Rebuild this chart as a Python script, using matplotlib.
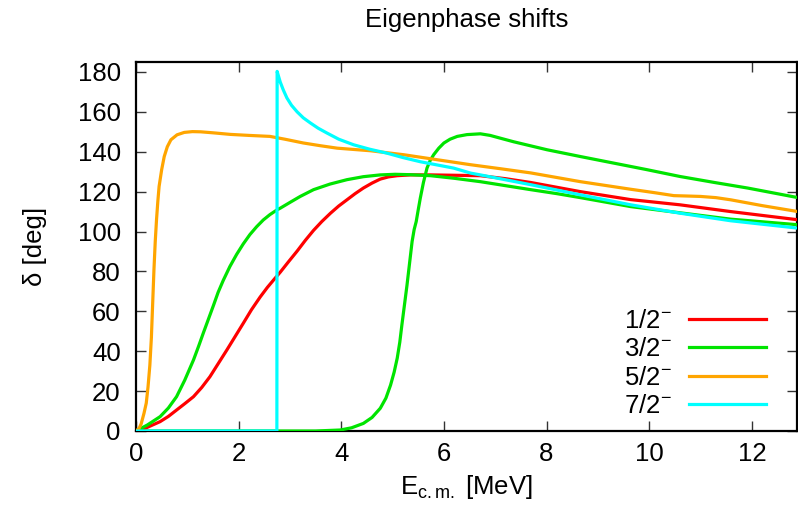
import matplotlib
matplotlib.use("Agg")
import matplotlib.pyplot as plt

plt.rcParams['font.family'] = ['Liberation Sans', 'DejaVu Sans']
plt.rcParams['mathtext.fontset'] = 'custom'
plt.rcParams['mathtext.rm'] = 'Liberation Sans'
plt.rcParams['mathtext.it'] = 'Liberation Sans:italic'

# 1/2-
e_half = [0.0, 0.2, 0.47, 0.63, 0.79, 0.95, 1.12, 1.28, 1.44, 1.60, 1.77, 1.93, 2.09, 2.25, 2.42,
          2.56, 2.71, 2.81, 2.97, 3.14, 3.30, 3.46, 3.62, 3.79, 3.95, 4.11, 4.27, 4.43, 4.6, 4.76,
          4.92, 5.09, 5.35, 5.74, 6.71, 7.2, 7.69, 8.66, 9.64, 10.6, 11.59, 12.9]
d_half = [0.0, 1.6, 4.7, 7.3, 10.5, 13.7, 17.2, 21.8, 27.2, 33.7, 40.6, 47.3, 54.0, 60.8, 67.2,
          72.0, 76.6, 79.6, 84.8, 90.2, 95.6, 100.6, 105.0, 109.2, 112.8, 115.9, 119.0, 121.8, 124.3, 126.3,
          127.4, 128.0, 128.4, 128.4, 128.0, 126.5, 124.6, 120.0, 116.0, 113.4, 110.0, 105.9]

# 3/2- (lower branch)
e_3a = [0.0, 0.22, 0.47, 0.63, 0.79, 0.95, 1.12, 1.22, 1.31, 1.41, 1.51, 1.60, 1.70, 1.83, 1.96,
        2.09, 2.22, 2.35, 2.48, 2.61, 2.75, 2.81, 3.0, 3.2, 3.46, 3.78, 4.11, 4.43, 4.76, 5.05,
        5.35, 5.74, 6.2, 6.71, 7.2, 7.69, 8.2, 8.66, 9.64, 10.6, 11.59, 12.9]
d_3a = [0.0, 3.0, 7.2, 11.5, 17.2, 25.5, 35.6, 42.5, 49.0, 56.0, 63.0, 69.5, 75.5, 82.5, 88.5,
        93.8, 98.5, 102.4, 105.8, 108.5, 110.9, 111.7, 114.6, 117.6, 121.0, 123.8, 126.0, 127.5, 128.4, 128.7,
        128.5, 128.0, 126.7, 125.0, 123.0, 121.0, 119.0, 117.0, 112.5, 109.4, 106.2, 103.4]

# 3/2- (upper branch)
e_3b = [0.0, 3.5, 3.98, 4.2, 4.43, 4.6, 4.76, 4.87, 4.96, 5.03, 5.09, 5.14, 5.18, 5.23, 5.28,
        5.33, 5.38, 5.42, 5.46, 5.50, 5.54, 5.60, 5.67, 5.73, 5.80, 5.9, 6.0, 6.12, 6.26, 6.45,
        6.65, 6.71, 6.9, 7.1, 7.36, 8.01, 8.66, 9.31, 9.96, 10.6, 11.27, 11.92, 12.9]
d_3b = [0.0, 0.0, 0.5, 1.6, 3.8, 6.8, 11.4, 16.5, 23.0, 29.5, 36.5, 44.5, 53.0, 63.0, 73.0,
        84.0, 95.0, 101.0, 105.0, 111.0, 116.8, 124.5, 131.8, 135.5, 138.5, 141.8, 144.4, 146.3, 147.7, 148.6,
        148.9, 149.0, 148.2, 146.8, 145.0, 141.0, 137.6, 134.3, 131.0, 127.6, 124.6, 121.8, 117.0]

# 5/2-
e_5 = [0.0, 0.06, 0.10, 0.156, 0.20, 0.234, 0.27, 0.30, 0.325, 0.35, 0.375, 0.40, 0.425, 0.45, 0.50,
       0.55, 0.61, 0.68, 0.80, 0.94, 1.1, 1.26, 1.5, 1.84, 2.2, 2.61, 2.9, 3.26, 3.6, 3.92,
       4.57, 5.22, 5.87, 6.52, 7.1, 7.69, 8.66, 9.64, 10.1, 10.48, 10.75, 11.0, 11.3, 11.59, 12.2, 12.9]
d_5 = [0.0, 1.3, 3.5, 8.9, 14.0, 22.0, 33.0, 47.0, 64.0, 81.0, 95.0, 106.0, 115.0, 122.6, 131.0,
       137.6, 142.5, 146.0, 148.5, 149.7, 150.1, 150.0, 149.5, 148.7, 148.2, 147.7, 146.3, 144.4, 143.0, 141.8,
       140.5, 138.5, 136.0, 133.5, 131.5, 129.4, 125.0, 121.2, 119.5, 118.0, 117.8, 117.6, 117.0, 115.9, 113.0, 110.0]

# 7/2-
e_7 = [0.0, 2.745, 2.75, 2.77, 2.81, 2.87, 2.94, 3.03, 3.14, 3.26, 3.40, 3.55, 3.72, 3.95, 4.24,
       4.55, 4.89, 5.2, 5.54, 6.19, 6.52, 6.71, 7.69, 8.66, 9.64, 10.6, 11.59, 12.9]
d_7 = [0.0, 0.0, 180.3, 178.5, 175.0, 171.0, 167.0, 163.3, 160.0, 157.0, 154.4, 151.8, 149.4, 146.3, 143.5,
       141.3, 139.3, 137.1, 135.0, 131.8, 129.3, 128.4, 123.5, 118.4, 113.4, 109.2, 105.4, 101.7]

labels = ['1/2$^{-}$', '3/2$^{-}$', '5/2$^{-}$', '7/2$^{-}$']
colors = ['#ff0000', '#00e400', '#ffa500', '#00ffff']
x_ticks = [0, 2, 4, 6, 8, 10, 12]
y_ticks = [0, 20, 40, 60, 80, 100, 120, 140, 160, 180]

fig = plt.figure(figsize=(7.98, 5.15), dpi=100)
ax = fig.add_axes([136 / 798, 84 / 515, 661 / 798, 369 / 515])

lw = 2.3
ax.plot(e_half, d_half, color=colors[0], lw=lw, label=labels[0], zorder=3)
ax.plot(e_3a, d_3a, color=colors[1], lw=lw, label=labels[1], zorder=3)
ax.plot(e_3b, d_3b, color=colors[1], lw=lw, zorder=3)
ax.plot(e_5, d_5, color=colors[2], lw=lw, label=labels[2], zorder=3)
ax.plot(e_7, d_7, color=colors[3], lw=lw, label=labels[3], zorder=3)

ax.set_xlim(0, 12.88)
ax.set_ylim(0, 185)
ax.set_xticks(x_ticks)
ax.set_yticks(y_ticks)
fs = 18.5
ax.tick_params(direction='in', length=7, width=1, top=True, right=True,
               labelsize=fs, color='#333333')
ax.tick_params(axis='y', pad=11)
ax.tick_params(axis='x', pad=8)
for s in ax.spines.values():
    s.set_linewidth(1.6)

ax.set_title('Eigenphase shifts', fontsize=fs, pad=25)
ax.set_xlabel(r'E$_{\mathregular{c.m.}}$ [MeV]', fontsize=fs, labelpad=5)
ax.set_ylabel('δ [deg]', fontsize=fs, labelpad=22)

ax.legend(loc='lower right', bbox_to_anchor=(0.972, 0.0), frameon=False, markerfirst=False,
          fontsize=fs, handlelength=3.0, labelspacing=0.17, handletextpad=0.65,
          borderpad=0.0)

fig.savefig('out.png', dpi=100)
